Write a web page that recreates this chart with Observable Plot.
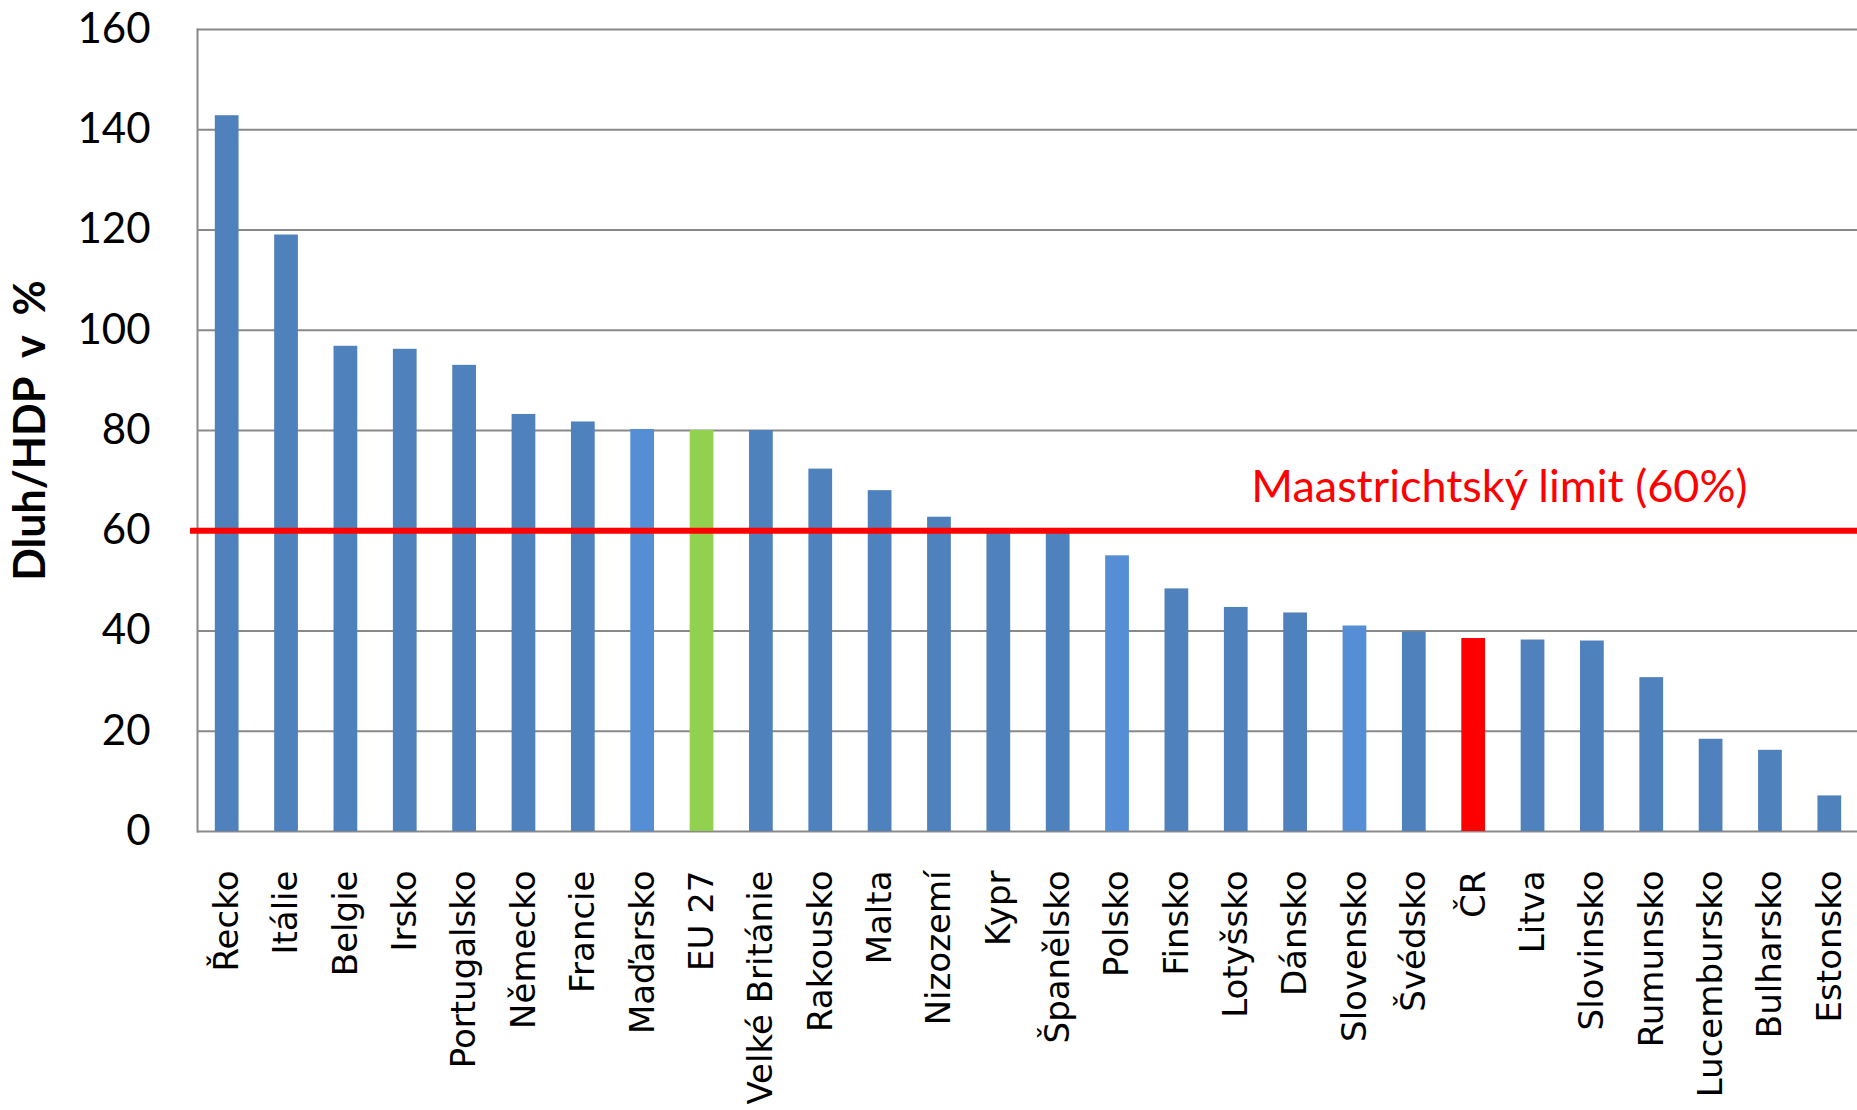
<!DOCTYPE html>
<html>
<head>
<meta charset="utf-8">
<script src="https://cdn.jsdelivr.net/npm/d3@7"></script>
<script src="https://cdn.jsdelivr.net/npm/@observablehq/plot@0.6"></script>
<style>
  html, body { margin: 0; padding: 0; background: #ffffff; }
  #chart { width: 1857px; height: 1110px; overflow: hidden; }
  svg { color: #000000; background: #ffffff; }
</style>
</head>
<body>
<div id="chart"></div>
<script>
// ---- Data ----
const countries = ["Řecko","Itálie","Belgie","Irsko","Portugalsko","Německo","Francie","Maďarsko","EU 27","Velké Británie","Rakousko","Malta","Nizozemí","Kypr","Španělsko","Polsko","Finsko","Lotyšsko","Dánsko","Slovensko","Švédsko","ČR","Litva","Slovinsko","Rumunsko","Lucembursko","Bulharsko","Estonsko"];
const debtRatio = [142.8, 119.0, 96.8, 96.2, 93.0, 83.2, 81.7, 80.2, 80.0, 80.0, 72.3, 68.0, 62.7, 60.4, 60.1, 55.0, 48.4, 44.7, 43.6, 41.0, 39.8, 38.5, 38.2, 38.0, 30.7, 18.4, 16.2, 7.1];
const groups = ["ostatní","ostatní","ostatní","ostatní","ostatní","ostatní","ostatní","V4","EU","ostatní","ostatní","ostatní","ostatní","ostatní","ostatní","V4","ostatní","ostatní","ostatní","V4","ostatní","ČR","ostatní","ostatní","ostatní","ostatní","ostatní","ostatní"];
const yTicks = [0, 20, 40, 60, 80, 100, 120, 140, 160];
const limitValue = 60;
const limitLabel = "Maastrichtský limit (60%)";
const yTitle = "Dluh/HDP\u00a0 v\u00a0 %";

const rows = countries.map((c, i) => ({country: c, value: debtRatio[i], group: groups[i]}));

const chart = Plot.plot({
  width: 1857,
  height: 1110,
  marginLeft: 197,
  marginRight: -2,
  marginTop: 29,
  marginBottom: 279,
  style: {background: "#ffffff", color: "#000000", overflow: "visible"},
  x: {domain: countries, paddingInner: 0.6, paddingOuter: 0.3, round: false},
  y: {domain: [0, 160]},
  color: {domain: ["ostatní", "V4", "EU", "ČR"], range: ["#4f81bd", "#558ed5", "#92d050", "#ff0000"]},
  marks: [
    Plot.gridY(yTicks, {stroke: "#898989", strokeOpacity: 1, strokeWidth: 2}),
    Plot.frame({anchor: "left", stroke: "#898989", strokeWidth: 2}),
    Plot.barY(rows, {x: "country", y: "value", fill: "group"}),
    Plot.ruleY([limitValue], {stroke: "#ff0000", strokeWidth: 6, insetLeft: -7}),
    Plot.text([{label: limitLabel, value: limitValue}], {
      y: "value", text: "label", frameAnchor: "right", textAnchor: "end",
      dx: -112, dy: -43, fill: "#ff0000", fontSize: 45, fontFamily: "Lato"
    }),
    Plot.text([yTitle], {
      text: d => d, frameAnchor: "left", textAnchor: "middle", rotate: -90, dx: -166,
      fontSize: 43, fontWeight: "bold", fontFamily: "Lato", fill: "#000000"
    }),
    Plot.axisY({ticks: yTicks, tickSize: 0, tickPadding: 47, fontSize: 42, fontFamily: "Lato", label: null}),
    Plot.axisX({tickRotate: -90, tickSize: 0, tickPadding: 39, fontSize: 34, fontFamily: "DejaVu Sans", label: null})
  ]
});
document.getElementById("chart").appendChild(chart);
</script>
</body>
</html>
